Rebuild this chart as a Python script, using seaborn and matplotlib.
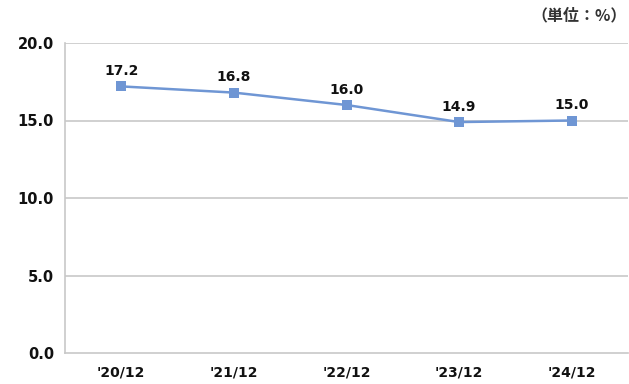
import matplotlib
matplotlib.use("Agg")
import matplotlib.pyplot as plt
import seaborn as sns
import pandas as pd
import numpy as np

# data
periods = ["'20/12", "'21/12", "'22/12", "'23/12", "'24/12"]
values = [17.2, 16.8, 16.0, 14.9, 15.0]
y_ticks = [0.0, 5.0, 10.0, 15.0, 20.0]

line_color = "#6f96d4"
grid_color = "#c8c8c8"

sns.set_theme(style="white")
plt.rcParams['font.family'] = ['DejaVu Sans', 'Noto Sans CJK JP']

df = pd.DataFrame({"period": periods, "value": values, "pos": np.arange(len(periods))})

fig = plt.figure(figsize=(6.29, 3.84), dpi=100)
ax = fig.add_axes([65 / 629, 1 - 353 / 384, 563 / 629, 310 / 384])

sns.lineplot(data=df, x="pos", y="value", ax=ax, color=line_color, linewidth=1.8,
             marker="s", markersize=7, markeredgewidth=0, markerfacecolor=line_color)

for _, row in df.iterrows():
    ax.annotate(f"{row['value']:.1f}", (row["pos"], row["value"]), xytext=(0, 6),
                textcoords="offset points", ha="center", va="bottom",
                fontsize=10, fontweight="bold", color="#111111")

ax.set_xlim(-0.5, len(periods) - 0.5)
ax.set_ylim(0, 20)
ax.set_yticks(y_ticks)
ax.set_yticklabels([f"{v:.1f}" for v in y_ticks], fontsize=10.5, fontweight="bold", color="#111111")
ax.set_xticks(df["pos"])
ax.set_xticklabels(periods, fontsize=10, fontweight="bold", color="#111111")
ax.set_xticks(np.arange(-0.5, len(periods)), minor=True)
ax.tick_params(axis="x", which="major", length=0, pad=9)
ax.tick_params(axis="x", which="minor", length=6, width=1, color=grid_color, direction="out")
ax.tick_params(axis="y", length=0, pad=8)

for v in y_ticks[1:]:
    ax.axhline(v, color=grid_color, linewidth=1.2, zorder=0)

for side in ["top", "right"]:
    ax.spines[side].set_visible(False)
for side in ["left", "bottom"]:
    ax.spines[side].set_color(grid_color)
    ax.spines[side].set_linewidth(1.2)

ax.set_xlabel("")
ax.set_ylabel("")

fig.text(627 / 629, 1 - 15 / 384, "（単位：%）", ha="right", va="center",
         fontsize=11.5, fontweight="bold", family=['Noto Sans CJK JP', 'DejaVu Sans'],
         color="#333333")

fig.savefig("out.png", dpi=100)
